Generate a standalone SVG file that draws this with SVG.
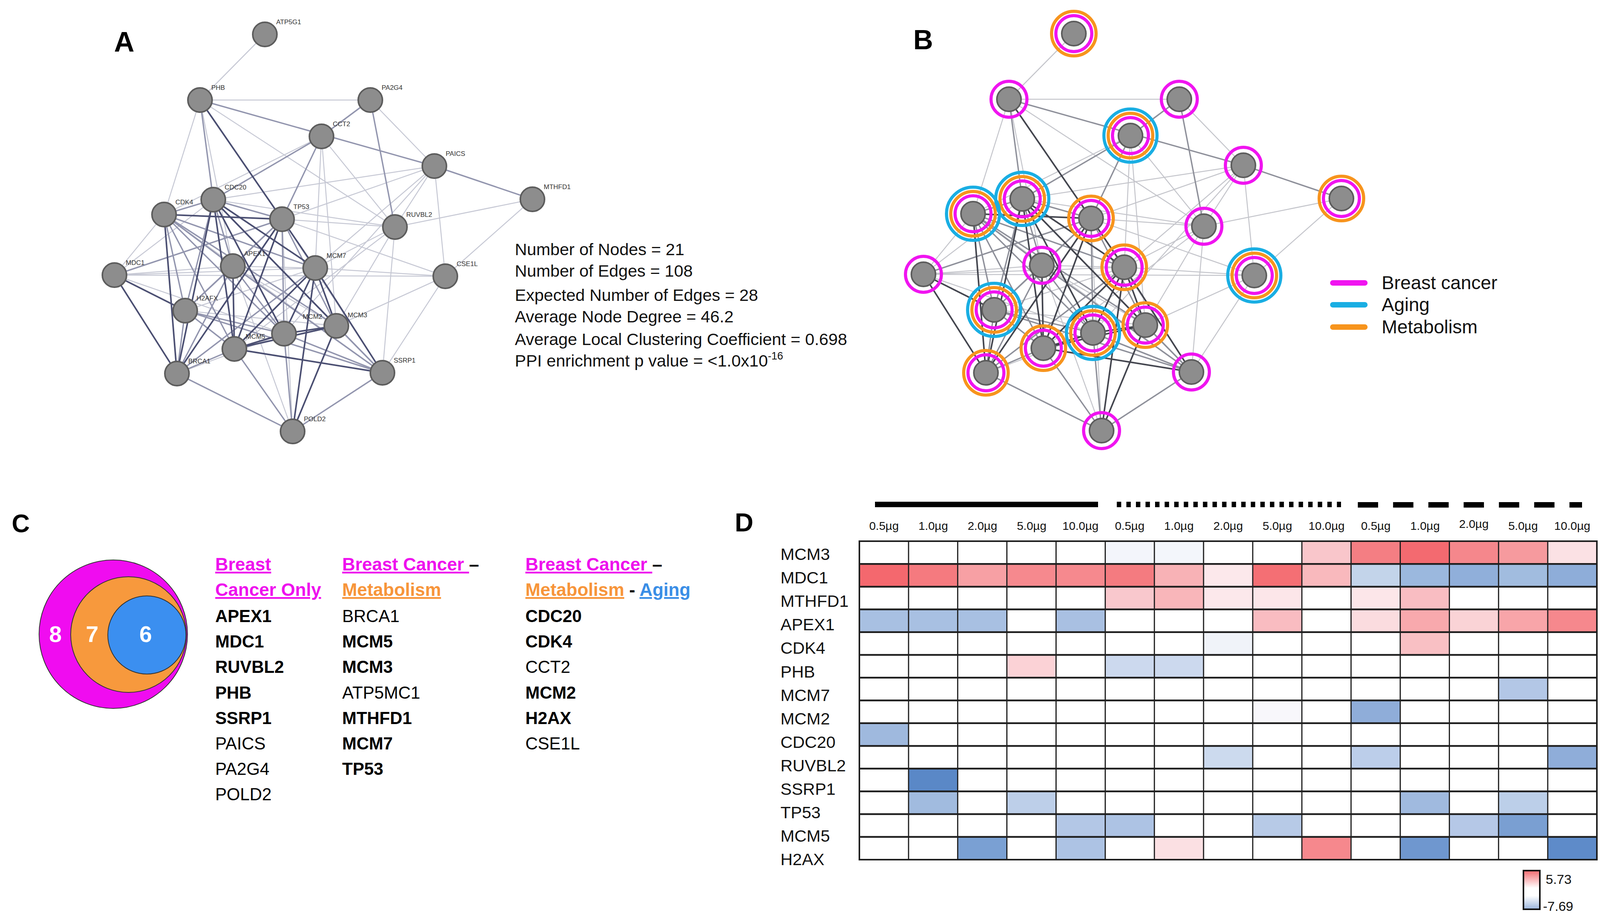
<svg xmlns="http://www.w3.org/2000/svg" width="4233" height="2357" viewBox="0 0 4233 2357">
<defs>
<style>
text{font-family:"Liberation Sans",Arial,sans-serif}
.panel{font-weight:bold;fill:#000}
.l{stroke:#c6c8d4;stroke-width:2.5}
.m{stroke:#9295ae;stroke-width:3.5}
.d{stroke:#4b4f72;stroke-width:4}
.eb .l{stroke:#c4c5cb}
.eb .m{stroke:#8e909a}
.eb .d{stroke:#44464f}
.core{fill:#8d8d8d;stroke:#5c5c5c;stroke-width:4}
.lab{font-size:17px;fill:#333}
.mag{fill:none;stroke:#f014f0;stroke-width:8}
.org{fill:none;stroke:#f7941d;stroke-width:8}
.blu{fill:none;stroke:#19aee3;stroke-width:8}
.stat{font-size:43px;fill:#111}
.leg{font-size:48px;fill:#111}
.hd{font-size:46px;font-weight:bold;text-decoration:underline}
.g{font-size:44px;fill:#000}
.b{font-weight:bold}
.col{font-size:30px;fill:#111;text-anchor:middle}
.row{font-size:43px;fill:#111}
</style>
<linearGradient id="cbar" x1="0" y1="0" x2="0" y2="1">
<stop offset="0" stop-color="#f36b70"/>
<stop offset="0.45" stop-color="#ffffff"/>
<stop offset="0.65" stop-color="#ffffff"/>
<stop offset="1" stop-color="#9ab5dd"/>
</linearGradient>
</defs>
<rect width="4233" height="2357" fill="#fff"/>

<!-- Panel letters -->
<text class="panel" x="292" y="132" font-size="72">A</text>
<text class="panel" x="2338" y="126" font-size="70">B</text>
<text class="panel" x="30" y="1362" font-size="64">C</text>
<text class="panel" x="1881" y="1360" font-size="66">D</text>

<!-- Panel A connectors -->
<g id="edges-A" fill="none">
<line class="l" x1="678" y1="88" x2="512" y2="256"/>
<line class="l" x1="512" y1="256" x2="948" y2="256"/>
<line class="l" x1="512" y1="256" x2="420" y2="549"/>
<line class="l" x1="512" y1="256" x2="596" y2="681"/>
<line class="l" x1="512" y1="256" x2="807" y2="686"/>
<line class="l" x1="512" y1="256" x2="1011" y2="581"/>
<line class="l" x1="948" y1="256" x2="1112" y2="425"/>
<line class="l" x1="823" y1="349" x2="1011" y2="581"/>
<line class="l" x1="823" y1="349" x2="420" y2="549"/>
<line class="l" x1="823" y1="349" x2="807" y2="686"/>
<line class="l" x1="823" y1="349" x2="861" y2="834"/>
<line class="l" x1="1112" y1="425" x2="546" y2="511"/>
<line class="l" x1="1112" y1="425" x2="722" y2="561"/>
<line class="l" x1="1112" y1="425" x2="1011" y2="581"/>
<line class="l" x1="1112" y1="425" x2="807" y2="686"/>
<line class="l" x1="1112" y1="425" x2="1140" y2="707"/>
<line class="l" x1="1112" y1="425" x2="727" y2="854"/>
<line class="l" x1="1363" y1="510" x2="1011" y2="581"/>
<line class="l" x1="1363" y1="510" x2="1140" y2="707"/>
<line class="l" x1="546" y1="511" x2="293" y2="704"/>
<line class="l" x1="546" y1="511" x2="1011" y2="581"/>
<line class="l" x1="420" y1="549" x2="293" y2="704"/>
<line class="l" x1="420" y1="549" x2="979" y2="954"/>
<line class="l" x1="722" y1="561" x2="979" y2="954"/>
<line class="l" x1="722" y1="561" x2="1011" y2="581"/>
<line class="l" x1="722" y1="561" x2="1140" y2="707"/>
<line class="l" x1="722" y1="561" x2="749" y2="1104"/>
<line class="l" x1="293" y1="704" x2="596" y2="681"/>
<line class="l" x1="293" y1="704" x2="807" y2="686"/>
<line class="l" x1="293" y1="704" x2="727" y2="854"/>
<line class="l" x1="293" y1="704" x2="1140" y2="707"/>
<line class="l" x1="596" y1="681" x2="807" y2="686"/>
<line class="l" x1="596" y1="681" x2="861" y2="834"/>
<line class="l" x1="596" y1="681" x2="749" y2="1104"/>
<line class="l" x1="807" y1="686" x2="474" y2="795"/>
<line class="l" x1="807" y1="686" x2="1140" y2="707"/>
<line class="l" x1="807" y1="686" x2="1011" y2="581"/>
<line class="l" x1="474" y1="795" x2="861" y2="834"/>
<line class="l" x1="861" y1="834" x2="1011" y2="581"/>
<line class="l" x1="861" y1="834" x2="1140" y2="707"/>
<line class="l" x1="727" y1="854" x2="453" y2="956"/>
<line class="l" x1="1011" y1="581" x2="979" y2="954"/>
<line class="l" x1="1011" y1="581" x2="600" y2="893"/>
<line class="l" x1="1140" y1="707" x2="979" y2="954"/>
<line class="m" x1="512" y1="256" x2="1112" y2="425"/>
<line class="m" x1="512" y1="256" x2="546" y2="511"/>
<line class="m" x1="948" y1="256" x2="823" y2="349"/>
<line class="m" x1="948" y1="256" x2="1011" y2="581"/>
<line class="m" x1="823" y1="349" x2="546" y2="511"/>
<line class="m" x1="823" y1="349" x2="722" y2="561"/>
<line class="m" x1="1112" y1="425" x2="1363" y2="510"/>
<line class="m" x1="546" y1="511" x2="420" y2="549"/>
<line class="m" x1="546" y1="511" x2="722" y2="561"/>
<line class="m" x1="546" y1="511" x2="596" y2="681"/>
<line class="m" x1="546" y1="511" x2="474" y2="795"/>
<line class="m" x1="546" y1="511" x2="979" y2="954"/>
<line class="m" x1="420" y1="549" x2="596" y2="681"/>
<line class="m" x1="420" y1="549" x2="807" y2="686"/>
<line class="m" x1="420" y1="549" x2="474" y2="795"/>
<line class="m" x1="420" y1="549" x2="727" y2="854"/>
<line class="m" x1="420" y1="549" x2="600" y2="893"/>
<line class="m" x1="420" y1="549" x2="861" y2="834"/>
<line class="m" x1="722" y1="561" x2="293" y2="704"/>
<line class="m" x1="722" y1="561" x2="596" y2="681"/>
<line class="m" x1="722" y1="561" x2="474" y2="795"/>
<line class="m" x1="722" y1="561" x2="727" y2="854"/>
<line class="m" x1="722" y1="561" x2="861" y2="834"/>
<line class="m" x1="596" y1="681" x2="474" y2="795"/>
<line class="m" x1="596" y1="681" x2="727" y2="854"/>
<line class="m" x1="596" y1="681" x2="453" y2="956"/>
<line class="m" x1="596" y1="681" x2="979" y2="954"/>
<line class="m" x1="807" y1="686" x2="453" y2="956"/>
<line class="m" x1="474" y1="795" x2="727" y2="854"/>
<line class="m" x1="474" y1="795" x2="600" y2="893"/>
<line class="m" x1="474" y1="795" x2="453" y2="956"/>
<line class="m" x1="474" y1="795" x2="979" y2="954"/>
<line class="m" x1="861" y1="834" x2="979" y2="954"/>
<line class="m" x1="727" y1="854" x2="979" y2="954"/>
<line class="m" x1="727" y1="854" x2="749" y2="1104"/>
<line class="m" x1="600" y1="893" x2="453" y2="956"/>
<line class="m" x1="600" y1="893" x2="749" y2="1104"/>
<line class="m" x1="453" y1="956" x2="749" y2="1104"/>
<line class="m" x1="979" y1="954" x2="749" y2="1104"/>
<line class="d" x1="512" y1="256" x2="722" y2="561"/>
<line class="d" x1="546" y1="511" x2="807" y2="686"/>
<line class="d" x1="546" y1="511" x2="861" y2="834"/>
<line class="d" x1="546" y1="511" x2="727" y2="854"/>
<line class="d" x1="546" y1="511" x2="600" y2="893"/>
<line class="d" x1="546" y1="511" x2="453" y2="956"/>
<line class="d" x1="420" y1="549" x2="722" y2="561"/>
<line class="d" x1="420" y1="549" x2="453" y2="956"/>
<line class="d" x1="722" y1="561" x2="807" y2="686"/>
<line class="d" x1="722" y1="561" x2="600" y2="893"/>
<line class="d" x1="722" y1="561" x2="453" y2="956"/>
<line class="d" x1="293" y1="704" x2="474" y2="795"/>
<line class="d" x1="293" y1="704" x2="453" y2="956"/>
<line class="d" x1="596" y1="681" x2="600" y2="893"/>
<line class="d" x1="807" y1="686" x2="861" y2="834"/>
<line class="d" x1="807" y1="686" x2="727" y2="854"/>
<line class="d" x1="807" y1="686" x2="600" y2="893"/>
<line class="d" x1="807" y1="686" x2="979" y2="954"/>
<line class="d" x1="807" y1="686" x2="749" y2="1104"/>
<line class="d" x1="861" y1="834" x2="727" y2="854"/>
<line class="d" x1="861" y1="834" x2="600" y2="893"/>
<line class="d" x1="861" y1="834" x2="749" y2="1104"/>
<line class="d" x1="727" y1="854" x2="600" y2="893"/>
<line class="d" x1="600" y1="893" x2="979" y2="954"/>
</g>

<!-- Panel A nodes -->
<g id="nodes-A">
<g id="a-ATP5G1"><circle class="core" cx="678" cy="88" r="31"/><text class="lab" x="707" y="62">ATP5G1</text></g>
<g id="a-PHB"><circle class="core" cx="512" cy="256" r="31"/><text class="lab" x="541" y="230">PHB</text></g>
<g id="a-PA2G4"><circle class="core" cx="948" cy="256" r="31"/><text class="lab" x="977" y="230">PA2G4</text></g>
<g id="a-CCT2"><circle class="core" cx="823" cy="349" r="31"/><text class="lab" x="852" y="323">CCT2</text></g>
<g id="a-PAICS"><circle class="core" cx="1112" cy="425" r="31"/><text class="lab" x="1141" y="399">PAICS</text></g>
<g id="a-MTHFD1"><circle class="core" cx="1363" cy="510" r="31"/><text class="lab" x="1392" y="484">MTHFD1</text></g>
<g id="a-CDC20"><circle class="core" cx="546" cy="511" r="31"/><text class="lab" x="575" y="485">CDC20</text></g>
<g id="a-CDK4"><circle class="core" cx="420" cy="549" r="31"/><text class="lab" x="449" y="523">CDK4</text></g>
<g id="a-TP53"><circle class="core" cx="722" cy="561" r="31"/><text class="lab" x="751" y="535">TP53</text></g>
<g id="a-RUVBL2"><circle class="core" cx="1011" cy="581" r="31"/><text class="lab" x="1040" y="555">RUVBL2</text></g>
<g id="a-MDC1"><circle class="core" cx="293" cy="704" r="31"/><text class="lab" x="322" y="678">MDC1</text></g>
<g id="a-APEX1"><circle class="core" cx="596" cy="681" r="31"/><text class="lab" x="625" y="655">APEX1</text></g>
<g id="a-MCM7"><circle class="core" cx="807" cy="686" r="31"/><text class="lab" x="836" y="660">MCM7</text></g>
<g id="a-CSE1L"><circle class="core" cx="1140" cy="707" r="31"/><text class="lab" x="1169" y="681">CSE1L</text></g>
<g id="a-H2AFX"><circle class="core" cx="474" cy="795" r="31"/><text class="lab" x="503" y="769">H2AFX</text></g>
<g id="a-MCM3"><circle class="core" cx="861" cy="834" r="31"/><text class="lab" x="890" y="812">MCM3</text></g>
<g id="a-MCM2"><circle class="core" cx="727" cy="854" r="31"/><text class="lab" x="775" y="816">MCM2</text></g>
<g id="a-MCM5"><circle class="core" cx="600" cy="893" r="31"/><text class="lab" x="629" y="867">MCM5</text></g>
<g id="a-BRCA1"><circle class="core" cx="453" cy="956" r="31"/><text class="lab" x="482" y="930">BRCA1</text></g>
<g id="a-SSRP1"><circle class="core" cx="979" cy="954" r="31"/><text class="lab" x="1008" y="928">SSRP1</text></g>
<g id="a-POLD2"><circle class="core" cx="749" cy="1104" r="31"/><text class="lab" x="778" y="1078">POLD2</text></g>
</g>

<!-- Panel A statistics -->
<g id="stats-A">
<text class="stat" x="1318" y="653">Number of Nodes = 21</text>
<text class="stat" x="1318" y="708">Number of Edges = 108</text>
<text class="stat" x="1318" y="770">Expected Number of Edges = 28</text>
<text class="stat" x="1318" y="825">Average Node Degree = 46.2</text>
<text class="stat" x="1318" y="883">Average Local Clustering Coefficient = 0.698</text>
<text class="stat" x="1318" y="938">PPI enrichment p value = &lt;1.0x10<tspan font-size="27" dy="-18">-16</tspan></text>
</g>

<!-- Panel B connectors -->
<g id="edges-B" class="eb" fill="none" transform="translate(2071,-2)">
<line class="l" x1="678" y1="88" x2="512" y2="256"/>
<line class="l" x1="512" y1="256" x2="948" y2="256"/>
<line class="l" x1="512" y1="256" x2="420" y2="549"/>
<line class="l" x1="512" y1="256" x2="596" y2="681"/>
<line class="l" x1="512" y1="256" x2="807" y2="686"/>
<line class="l" x1="512" y1="256" x2="1011" y2="581"/>
<line class="l" x1="948" y1="256" x2="1112" y2="425"/>
<line class="l" x1="823" y1="349" x2="1011" y2="581"/>
<line class="l" x1="823" y1="349" x2="420" y2="549"/>
<line class="l" x1="823" y1="349" x2="807" y2="686"/>
<line class="l" x1="823" y1="349" x2="861" y2="834"/>
<line class="l" x1="1112" y1="425" x2="546" y2="511"/>
<line class="l" x1="1112" y1="425" x2="722" y2="561"/>
<line class="l" x1="1112" y1="425" x2="1011" y2="581"/>
<line class="l" x1="1112" y1="425" x2="807" y2="686"/>
<line class="l" x1="1112" y1="425" x2="1140" y2="707"/>
<line class="l" x1="1112" y1="425" x2="727" y2="854"/>
<line class="l" x1="1363" y1="510" x2="1011" y2="581"/>
<line class="l" x1="1363" y1="510" x2="1140" y2="707"/>
<line class="l" x1="546" y1="511" x2="293" y2="704"/>
<line class="l" x1="546" y1="511" x2="1011" y2="581"/>
<line class="l" x1="420" y1="549" x2="293" y2="704"/>
<line class="l" x1="420" y1="549" x2="979" y2="954"/>
<line class="l" x1="722" y1="561" x2="979" y2="954"/>
<line class="l" x1="722" y1="561" x2="1011" y2="581"/>
<line class="l" x1="722" y1="561" x2="1140" y2="707"/>
<line class="l" x1="722" y1="561" x2="749" y2="1104"/>
<line class="l" x1="293" y1="704" x2="596" y2="681"/>
<line class="l" x1="293" y1="704" x2="807" y2="686"/>
<line class="l" x1="293" y1="704" x2="727" y2="854"/>
<line class="l" x1="293" y1="704" x2="1140" y2="707"/>
<line class="l" x1="596" y1="681" x2="807" y2="686"/>
<line class="l" x1="596" y1="681" x2="861" y2="834"/>
<line class="l" x1="596" y1="681" x2="749" y2="1104"/>
<line class="l" x1="807" y1="686" x2="474" y2="795"/>
<line class="l" x1="807" y1="686" x2="1140" y2="707"/>
<line class="l" x1="807" y1="686" x2="1011" y2="581"/>
<line class="l" x1="474" y1="795" x2="861" y2="834"/>
<line class="l" x1="861" y1="834" x2="1011" y2="581"/>
<line class="l" x1="861" y1="834" x2="1140" y2="707"/>
<line class="l" x1="727" y1="854" x2="453" y2="956"/>
<line class="l" x1="1011" y1="581" x2="979" y2="954"/>
<line class="l" x1="1011" y1="581" x2="600" y2="893"/>
<line class="l" x1="1140" y1="707" x2="979" y2="954"/>
<line class="m" x1="512" y1="256" x2="1112" y2="425"/>
<line class="m" x1="512" y1="256" x2="546" y2="511"/>
<line class="m" x1="948" y1="256" x2="823" y2="349"/>
<line class="m" x1="948" y1="256" x2="1011" y2="581"/>
<line class="m" x1="823" y1="349" x2="546" y2="511"/>
<line class="m" x1="823" y1="349" x2="722" y2="561"/>
<line class="m" x1="1112" y1="425" x2="1363" y2="510"/>
<line class="m" x1="546" y1="511" x2="420" y2="549"/>
<line class="m" x1="546" y1="511" x2="722" y2="561"/>
<line class="m" x1="546" y1="511" x2="596" y2="681"/>
<line class="m" x1="546" y1="511" x2="474" y2="795"/>
<line class="m" x1="546" y1="511" x2="979" y2="954"/>
<line class="m" x1="420" y1="549" x2="596" y2="681"/>
<line class="m" x1="420" y1="549" x2="807" y2="686"/>
<line class="m" x1="420" y1="549" x2="474" y2="795"/>
<line class="m" x1="420" y1="549" x2="727" y2="854"/>
<line class="m" x1="420" y1="549" x2="600" y2="893"/>
<line class="m" x1="420" y1="549" x2="861" y2="834"/>
<line class="m" x1="722" y1="561" x2="293" y2="704"/>
<line class="m" x1="722" y1="561" x2="596" y2="681"/>
<line class="m" x1="722" y1="561" x2="474" y2="795"/>
<line class="m" x1="722" y1="561" x2="727" y2="854"/>
<line class="m" x1="722" y1="561" x2="861" y2="834"/>
<line class="m" x1="596" y1="681" x2="474" y2="795"/>
<line class="m" x1="596" y1="681" x2="727" y2="854"/>
<line class="m" x1="596" y1="681" x2="453" y2="956"/>
<line class="m" x1="596" y1="681" x2="979" y2="954"/>
<line class="m" x1="807" y1="686" x2="453" y2="956"/>
<line class="m" x1="474" y1="795" x2="727" y2="854"/>
<line class="m" x1="474" y1="795" x2="600" y2="893"/>
<line class="m" x1="474" y1="795" x2="453" y2="956"/>
<line class="m" x1="474" y1="795" x2="979" y2="954"/>
<line class="m" x1="861" y1="834" x2="979" y2="954"/>
<line class="m" x1="727" y1="854" x2="979" y2="954"/>
<line class="m" x1="727" y1="854" x2="749" y2="1104"/>
<line class="m" x1="600" y1="893" x2="453" y2="956"/>
<line class="m" x1="600" y1="893" x2="749" y2="1104"/>
<line class="m" x1="453" y1="956" x2="749" y2="1104"/>
<line class="m" x1="979" y1="954" x2="749" y2="1104"/>
<line class="d" x1="512" y1="256" x2="722" y2="561"/>
<line class="d" x1="546" y1="511" x2="807" y2="686"/>
<line class="d" x1="546" y1="511" x2="861" y2="834"/>
<line class="d" x1="546" y1="511" x2="727" y2="854"/>
<line class="d" x1="546" y1="511" x2="600" y2="893"/>
<line class="d" x1="546" y1="511" x2="453" y2="956"/>
<line class="d" x1="420" y1="549" x2="722" y2="561"/>
<line class="d" x1="420" y1="549" x2="453" y2="956"/>
<line class="d" x1="722" y1="561" x2="807" y2="686"/>
<line class="d" x1="722" y1="561" x2="600" y2="893"/>
<line class="d" x1="722" y1="561" x2="453" y2="956"/>
<line class="d" x1="293" y1="704" x2="474" y2="795"/>
<line class="d" x1="293" y1="704" x2="453" y2="956"/>
<line class="d" x1="596" y1="681" x2="600" y2="893"/>
<line class="d" x1="807" y1="686" x2="861" y2="834"/>
<line class="d" x1="807" y1="686" x2="727" y2="854"/>
<line class="d" x1="807" y1="686" x2="600" y2="893"/>
<line class="d" x1="807" y1="686" x2="979" y2="954"/>
<line class="d" x1="807" y1="686" x2="749" y2="1104"/>
<line class="d" x1="861" y1="834" x2="727" y2="854"/>
<line class="d" x1="861" y1="834" x2="600" y2="893"/>
<line class="d" x1="861" y1="834" x2="749" y2="1104"/>
<line class="d" x1="727" y1="854" x2="600" y2="893"/>
<line class="d" x1="600" y1="893" x2="979" y2="954"/>
</g>

<!-- Panel B nodes (rings: magenta = breast cancer, orange = metabolism, blue = aging) -->
<g id="nodes-B" transform="translate(2071,-2)">
<g id="b-ATP5G1"><circle class="core" cx="678" cy="88" r="31"/><circle class="mag" cx="678" cy="88" r="46"/><circle class="org" cx="678" cy="88" r="57"/></g>
<g id="b-PHB"><circle class="core" cx="512" cy="256" r="31"/><circle class="mag" cx="512" cy="256" r="46"/></g>
<g id="b-PA2G4"><circle class="core" cx="948" cy="256" r="31"/><circle class="mag" cx="948" cy="256" r="46"/></g>
<g id="b-CCT2"><circle class="core" cx="823" cy="349" r="31"/><circle class="mag" cx="823" cy="349" r="46"/><circle class="org" cx="823" cy="349" r="57"/><circle class="blu" cx="823" cy="349" r="68"/></g>
<g id="b-PAICS"><circle class="core" cx="1112" cy="425" r="31"/><circle class="mag" cx="1112" cy="425" r="46"/></g>
<g id="b-MTHFD1"><circle class="core" cx="1363" cy="510" r="31"/><circle class="mag" cx="1363" cy="510" r="46"/><circle class="org" cx="1363" cy="510" r="57"/></g>
<g id="b-CDC20"><circle class="core" cx="546" cy="511" r="31"/><circle class="mag" cx="546" cy="511" r="46"/><circle class="org" cx="546" cy="511" r="57"/><circle class="blu" cx="546" cy="511" r="68"/></g>
<g id="b-CDK4"><circle class="core" cx="420" cy="549" r="31"/><circle class="mag" cx="420" cy="549" r="46"/><circle class="org" cx="420" cy="549" r="57"/><circle class="blu" cx="420" cy="549" r="68"/></g>
<g id="b-TP53"><circle class="core" cx="722" cy="561" r="31"/><circle class="mag" cx="722" cy="561" r="46"/><circle class="org" cx="722" cy="561" r="57"/></g>
<g id="b-RUVBL2"><circle class="core" cx="1011" cy="581" r="31"/><circle class="mag" cx="1011" cy="581" r="46"/></g>
<g id="b-MDC1"><circle class="core" cx="293" cy="704" r="31"/><circle class="mag" cx="293" cy="704" r="46"/></g>
<g id="b-APEX1"><circle class="core" cx="596" cy="681" r="31"/><circle class="mag" cx="596" cy="681" r="46"/></g>
<g id="b-MCM7"><circle class="core" cx="807" cy="686" r="31"/><circle class="mag" cx="807" cy="686" r="46"/><circle class="org" cx="807" cy="686" r="57"/></g>
<g id="b-CSE1L"><circle class="core" cx="1140" cy="707" r="31"/><circle class="mag" cx="1140" cy="707" r="46"/><circle class="org" cx="1140" cy="707" r="57"/><circle class="blu" cx="1140" cy="707" r="68"/></g>
<g id="b-H2AFX"><circle class="core" cx="474" cy="795" r="31"/><circle class="mag" cx="474" cy="795" r="46"/><circle class="org" cx="474" cy="795" r="57"/><circle class="blu" cx="474" cy="795" r="68"/></g>
<g id="b-MCM3"><circle class="core" cx="861" cy="834" r="31"/><circle class="mag" cx="861" cy="834" r="46"/><circle class="org" cx="861" cy="834" r="57"/></g>
<g id="b-MCM2"><circle class="core" cx="727" cy="854" r="31"/><circle class="mag" cx="727" cy="854" r="46"/><circle class="org" cx="727" cy="854" r="57"/><circle class="blu" cx="727" cy="854" r="68"/></g>
<g id="b-MCM5"><circle class="core" cx="600" cy="893" r="31"/><circle class="mag" cx="600" cy="893" r="46"/><circle class="org" cx="600" cy="893" r="57"/></g>
<g id="b-BRCA1"><circle class="core" cx="453" cy="956" r="31"/><circle class="mag" cx="453" cy="956" r="46"/><circle class="org" cx="453" cy="956" r="57"/></g>
<g id="b-SSRP1"><circle class="core" cx="979" cy="954" r="31"/><circle class="mag" cx="979" cy="954" r="46"/></g>
<g id="b-POLD2"><circle class="core" cx="749" cy="1104" r="31"/><circle class="mag" cx="749" cy="1104" r="46"/></g>
</g>

<!-- Panel B legend -->
<g id="legend-B" stroke-linecap="round" stroke-width="14">
<line x1="3412" y1="724" x2="3494" y2="724" stroke="#f014f0"/>
<line x1="3412" y1="780" x2="3494" y2="780" stroke="#19aee3"/>
<line x1="3412" y1="837" x2="3494" y2="837" stroke="#f7941d"/>
<text class="leg" x="3537" y="740" stroke="none">Breast cancer</text>
<text class="leg" x="3537" y="796" stroke="none">Aging</text>
<text class="leg" x="3537" y="853" stroke="none">Metabolism</text>
</g>

<!-- Panel C Venn -->
<g id="venn-C" stroke="#333" stroke-width="2">
<circle cx="290" cy="1623" r="190" fill="#f00cf0"/>
<circle cx="329" cy="1624" r="148" fill="#f7993d"/>
<circle cx="376" cy="1625" r="100" fill="#3b8ff0"/>
</g>
<g id="venn-counts" font-weight="bold" font-size="58" fill="#fff" text-anchor="middle">
<text x="142" y="1643">8</text>
<text x="236" y="1643">7</text>
<text x="373" y="1643">6</text>
</g>

<!-- Panel C lists -->
<g id="list-1">
<text class="hd" x="551" y="1460" fill="#ee11ee">Breast</text>
<text class="hd" x="551" y="1525" fill="#ee11ee">Cancer Only</text>
<text class="g b" x="551" y="1592">APEX1</text>
<text class="g b" x="551" y="1657">MDC1</text>
<text class="g b" x="551" y="1722">RUVBL2</text>
<text class="g b" x="551" y="1788">PHB</text>
<text class="g b" x="551" y="1853">SSRP1</text>
<text class="g" x="551" y="1918">PAICS</text>
<text class="g" x="551" y="1983">PA2G4</text>
<text class="g" x="551" y="2048">POLD2</text>
</g>
<g id="list-2">
<text x="876" y="1460" font-size="46" font-weight="bold"><tspan fill="#ee11ee" text-decoration="underline">Breast Cancer </tspan><tspan fill="#000"> –</tspan></text>
<text class="hd" x="876" y="1525" fill="#f7953a">Metabolism</text>
<text class="g" x="876" y="1592">BRCA1</text>
<text class="g b" x="876" y="1657">MCM5</text>
<text class="g b" x="876" y="1722">MCM3</text>
<text class="g" x="876" y="1788">ATP5MC1</text>
<text class="g b" x="876" y="1853">MTHFD1</text>
<text class="g b" x="876" y="1918">MCM7</text>
<text class="g b" x="876" y="1983">TP53</text>
</g>
<g id="list-3">
<text x="1345" y="1460" font-size="46" font-weight="bold"><tspan fill="#ee11ee" text-decoration="underline">Breast Cancer </tspan><tspan fill="#000">–</tspan></text>
<text x="1345" y="1525" font-size="46" font-weight="bold"><tspan fill="#f7953a" text-decoration="underline">Metabolism</tspan><tspan fill="#000"> - </tspan><tspan fill="#3a8ee6" text-decoration="underline">Aging</tspan></text>
<text class="g b" x="1345" y="1592">CDC20</text>
<text class="g b" x="1345" y="1657">CDK4</text>
<text class="g" x="1345" y="1722">CCT2</text>
<text class="g b" x="1345" y="1788">MCM2</text>
<text class="g b" x="1345" y="1853">H2AX</text>
<text class="g" x="1345" y="1918">CSE1L</text>
</g>

<!-- Panel D header bars -->
<g id="bars-D" stroke="#000" stroke-width="14">
<line x1="2240" y1="1291" x2="2811" y2="1291"/>
<line x1="2859" y1="1291" x2="3433" y2="1291" stroke-dasharray="11.3 13.2"/>
<line x1="3476" y1="1292" x2="4050" y2="1292" stroke-dasharray="52 38.3"/>
</g>

<!-- Panel D column labels -->
<g id="cols-D">
<text class="col" x="2263" y="1356">0.5µg</text>
<text class="col" x="2389" y="1356">1.0µg</text>
<text class="col" x="2515" y="1356">2.0µg</text>
<text class="col" x="2641" y="1356">5.0µg</text>
<text class="col" x="2766" y="1356">10.0µg</text>
<text class="col" x="2892" y="1356">0.5µg</text>
<text class="col" x="3018" y="1356">1.0µg</text>
<text class="col" x="3144" y="1356">2.0µg</text>
<text class="col" x="3270" y="1356">5.0µg</text>
<text class="col" x="3396" y="1356">10.0µg</text>
<text class="col" x="3522" y="1356">0.5µg</text>
<text class="col" x="3648" y="1356">1.0µg</text>
<text class="col" x="3773" y="1351">2.0µg</text>
<text class="col" x="3899" y="1356">5.0µg</text>
<text class="col" x="4025" y="1356">10.0µg</text>
</g>

<!-- Panel D row labels -->
<g id="rows-D">
<text class="row" x="1998" y="1433">MCM3</text>
<text class="row" x="1998" y="1493">MDC1</text>
<text class="row" x="1998" y="1553">MTHFD1</text>
<text class="row" x="1998" y="1613">APEX1</text>
<text class="row" x="1998" y="1673">CDK4</text>
<text class="row" x="1998" y="1734">PHB</text>
<text class="row" x="1998" y="1794">MCM7</text>
<text class="row" x="1998" y="1854">MCM2</text>
<text class="row" x="1998" y="1914">CDC20</text>
<text class="row" x="1998" y="1974">RUVBL2</text>
<text class="row" x="1998" y="2034">SSRP1</text>
<text class="row" x="1998" y="2094">TP53</text>
<text class="row" x="1998" y="2154">MCM5</text>
<text class="row" x="1998" y="2214">H2AX</text>
</g>

<!-- Panel D heatmap cells -->
<g id="heatmap-D" transform="translate(2200,1385) scale(125.867,58.214)">
<rect x="0" y="0" width="15" height="14" fill="#fff"/>
<rect x="5" y="0" width="1" height="1" fill="#f3f5fb"/>
<rect x="6" y="0" width="1" height="1" fill="#f3f6fb"/>
<rect x="9" y="0" width="1" height="1" fill="#f9c6cb"/>
<rect x="10" y="0" width="1" height="1" fill="#f47e83"/>
<rect x="11" y="0" width="1" height="1" fill="#f36a70"/>
<rect x="12" y="0" width="1" height="1" fill="#f5878c"/>
<rect x="13" y="0" width="1" height="1" fill="#f69a9e"/>
<rect x="14" y="0" width="1" height="1" fill="#fbe1e4"/>
<rect x="0" y="1" width="1" height="1" fill="#f4686e"/>
<rect x="1" y="1" width="1" height="1" fill="#f57a7f"/>
<rect x="2" y="1" width="1" height="1" fill="#f7a0a4"/>
<rect x="3" y="1" width="1" height="1" fill="#f6898e"/>
<rect x="4" y="1" width="1" height="1" fill="#f6898e"/>
<rect x="5" y="1" width="1" height="1" fill="#f47b80"/>
<rect x="6" y="1" width="1" height="1" fill="#f8b2b6"/>
<rect x="7" y="1" width="1" height="1" fill="#fce8eb"/>
<rect x="8" y="1" width="1" height="1" fill="#f46f74"/>
<rect x="9" y="1" width="1" height="1" fill="#f9b9bd"/>
<rect x="10" y="1" width="1" height="1" fill="#c3d4ea"/>
<rect x="11" y="1" width="1" height="1" fill="#9bb8de"/>
<rect x="12" y="1" width="1" height="1" fill="#90afda"/>
<rect x="13" y="1" width="1" height="1" fill="#a1bcdf"/>
<rect x="14" y="1" width="1" height="1" fill="#8eadd9"/>
<rect x="5" y="2" width="1" height="1" fill="#f9c8cd"/>
<rect x="6" y="2" width="1" height="1" fill="#f9b6ba"/>
<rect x="7" y="2" width="1" height="1" fill="#fce8eb"/>
<rect x="8" y="2" width="1" height="1" fill="#fce6e9"/>
<rect x="10" y="2" width="1" height="1" fill="#fce6e9"/>
<rect x="11" y="2" width="1" height="1" fill="#f9bdc2"/>
<rect x="0" y="3" width="3" height="1" fill="#a8c0e2"/>
<rect x="4" y="3" width="1" height="1" fill="#a9c0e2"/>
<rect x="8" y="3" width="1" height="1" fill="#f9bcc1"/>
<rect x="10" y="3" width="1" height="1" fill="#fbdcdf"/>
<rect x="11" y="3" width="1" height="1" fill="#f8a9ad"/>
<rect x="12" y="3" width="1" height="1" fill="#fad3d6"/>
<rect x="13" y="3" width="1" height="1" fill="#f8a5a9"/>
<rect x="14" y="3" width="1" height="1" fill="#f6888d"/>
<rect x="7" y="4" width="1" height="1" fill="#f0f3f9"/>
<rect x="11" y="4" width="1" height="1" fill="#f9c0c4"/>
<rect x="3" y="5" width="1" height="1" fill="#fbd2d6"/>
<rect x="5" y="5" width="2" height="1" fill="#ccd9ee"/>
<rect x="13" y="6" width="1" height="1" fill="#b3c7e6"/>
<rect x="8" y="7" width="1" height="1" fill="#f8f7fb"/>
<rect x="10" y="7" width="1" height="1" fill="#8fadd9"/>
<rect x="0" y="8" width="1" height="1" fill="#9fb9de"/>
<rect x="7" y="9" width="1" height="1" fill="#ccdaee"/>
<rect x="10" y="9" width="1" height="1" fill="#bcceea"/>
<rect x="14" y="9" width="1" height="1" fill="#8fadd9"/>
<rect x="1" y="10" width="1" height="1" fill="#5a88c7"/>
<rect x="1" y="11" width="1" height="1" fill="#a1bbdf"/>
<rect x="3" y="11" width="1" height="1" fill="#bdcfe9"/>
<rect x="11" y="11" width="1" height="1" fill="#a0badf"/>
<rect x="13" y="11" width="1" height="1" fill="#bccfe9"/>
<rect x="4" y="12" width="1" height="1" fill="#b3c7e6"/>
<rect x="5" y="12" width="1" height="1" fill="#adc3e4"/>
<rect x="8" y="12" width="1" height="1" fill="#b7cae7"/>
<rect x="12" y="12" width="1" height="1" fill="#b5c8e7"/>
<rect x="13" y="12" width="1" height="1" fill="#7a9fd2"/>
<rect x="2" y="13" width="1" height="1" fill="#7aa0d3"/>
<rect x="4" y="13" width="1" height="1" fill="#adc3e4"/>
<rect x="6" y="13" width="1" height="1" fill="#fbe0e3"/>
<rect x="9" y="13" width="1" height="1" fill="#f6888d"/>
<rect x="11" y="13" width="1" height="1" fill="#6f97cf"/>
<rect x="14" y="13" width="1" height="1" fill="#5e8bc9"/>
</g>
<g id="grid-D" fill="none" stroke="#1e1e1e">
<path stroke-width="3" d="M2325.9 1385V2200M2451.7 1385V2200M2577.6 1385V2200M2703.5 1385V2200M2829.4 1385V2200M2955.2 1385V2200M3081.1 1385V2200M3207 1385V2200M3332.8 1385V2200M3458.7 1385V2200M3584.6 1385V2200M3710.4 1385V2200M3836.3 1385V2200M3962.2 1385V2200"/>
<path stroke-width="4.5" d="M2200 1443.2H4088M2200 1501.4H4088M2200 1559.6H4088M2200 1617.8H4088M2200 1676.1H4088M2200 1734.3H4088M2200 1792.5H4088M2200 1850.7H4088M2200 1908.9H4088M2200 1967.1H4088M2200 2025.3H4088M2200 2083.5H4088M2200 2141.8H4088"/>
<rect x="2200" y="1385" width="1888" height="815" stroke-width="4"/>
</g>

<!-- Panel D colour scale -->
<g id="scale-D">
<rect x="3900" y="2228" width="42" height="99" fill="url(#cbar)" stroke="#111" stroke-width="4"/>
<text x="3957" y="2262" font-size="34" fill="#111">5.73</text>
<text x="3950" y="2331" font-size="34" fill="#111">-7.69</text>
</g>
</svg>
